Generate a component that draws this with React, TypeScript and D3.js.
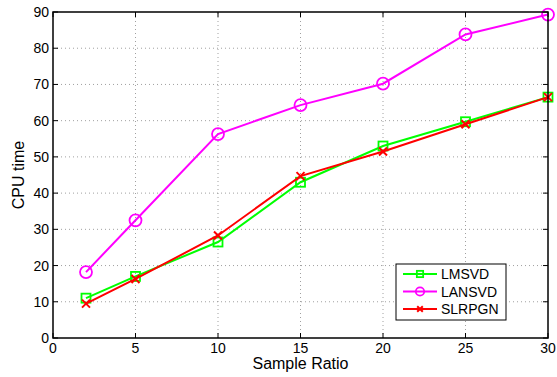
import React, { useRef, useEffect } from "react";
import * as d3 from "d3";

const sampleRatio = [2, 5, 10, 15, 20, 25, 30];
const lmsvd = [11, 17, 26.5, 43, 53, 59.7, 66.5];
const lansvd = [18.2, 32.5, 56.3, 64.3, 70.2, 83.8, 89.3];
const slrpgn = [9.5, 16.3, 28.3, 44.7, 51.5, 59, 66.5];
const xTicks = [0, 5, 10, 15, 20, 25, 30];
const yTicks = [0, 10, 20, 30, 40, 50, 60, 70, 80, 90];

const series = [
  { name: "LMSVD", values: lmsvd, color: "#00ff00", marker: "square" },
  { name: "LANSVD", values: lansvd, color: "#ff00ff", marker: "circle" },
  { name: "SLRPGN", values: slrpgn, color: "#ff0000", marker: "cross" },
];

const W = 557, H = 377;
const margin = { left: 53, right: 9, top: 12, bottom: 39 };

function drawMarker(g, type, x, y, color, s = 1) {
  if (type === "square") {
    g.append("rect").attr("x", x - 4.5 * s).attr("y", y - 4.5 * s)
      .attr("width", 9 * s).attr("height", 9 * s)
      .attr("fill", "none").attr("stroke", color).attr("stroke-width", 1.8);
  } else if (type === "circle") {
    g.append("circle").attr("cx", x).attr("cy", y).attr("r", 6 * s)
      .attr("fill", "none").attr("stroke", color).attr("stroke-width", 1.8);
  } else {
    const r = 4 * s;
    g.append("path")
      .attr("d", `M${x - r},${y - r}L${x + r},${y + r}M${x - r},${y + r}L${x + r},${y - r}`)
      .attr("stroke", color).attr("stroke-width", 2);
  }
}

export default function App() {
  const svgRef = useRef(null);

  useEffect(() => {
    const svg = d3.select(svgRef.current);
    svg.selectAll("*").remove();
    const iw = W - margin.left - margin.right;
    const ih = H - margin.top - margin.bottom;

    const x = d3.scaleLinear().domain([0, 30]).range([margin.left, margin.left + iw]);
    const y = d3.scaleLinear().domain([0, 90]).range([margin.top + ih, margin.top]);

    svg.append("rect").attr("width", W).attr("height", H).attr("fill", "white");

    // grid
    const grid = svg.append("g");
    xTicks.slice(1, -1).forEach((t) => {
      grid.append("line").attr("x1", x(t)).attr("x2", x(t))
        .attr("y1", y(0)).attr("y2", y(90))
        .attr("stroke", "#888").attr("stroke-width", 0.8).attr("stroke-dasharray", "1,3");
    });
    yTicks.slice(1, -1).forEach((t) => {
      grid.append("line").attr("x1", x(0)).attr("x2", x(30))
        .attr("y1", y(t)).attr("y2", y(t))
        .attr("stroke", "#888").attr("stroke-width", 0.8).attr("stroke-dasharray", "1,3");
    });

    // ticks inward on all sides
    const tk = svg.append("g").attr("stroke", "black").attr("stroke-width", 1);
    xTicks.forEach((t) => {
      tk.append("line").attr("x1", x(t)).attr("x2", x(t)).attr("y1", y(0)).attr("y2", y(0) - 5);
      tk.append("line").attr("x1", x(t)).attr("x2", x(t)).attr("y1", y(90)).attr("y2", y(90) + 5);
    });
    yTicks.forEach((t) => {
      tk.append("line").attr("x1", x(0)).attr("x2", x(0) + 5).attr("y1", y(t)).attr("y2", y(t));
      tk.append("line").attr("x1", x(30)).attr("x2", x(30) - 5).attr("y1", y(t)).attr("y2", y(t));
    });

    // tick labels
    const font = "Liberation Sans, Arial, sans-serif";
    xTicks.forEach((t) => {
      svg.append("text").attr("x", x(t)).attr("y", y(0) + 15)
        .attr("text-anchor", "middle").attr("font-family", font).attr("font-size", 14)
        .text(t);
    });
    yTicks.forEach((t) => {
      svg.append("text").attr("x", x(0) - 4).attr("y", y(t) + 5)
        .attr("text-anchor", "end").attr("font-family", font).attr("font-size", 14)
        .text(t);
    });

    // lines
    const line = d3.line().x((d, i) => x(sampleRatio[i])).y((d) => y(d));
    series.forEach((s) => {
      svg.append("path").datum(s.values).attr("d", line)
        .attr("fill", "none").attr("stroke", s.color).attr("stroke-width", 2);
      const mg = svg.append("g");
      s.values.forEach((v, i) => drawMarker(mg, s.marker, x(sampleRatio[i]), y(v), s.color));
    });

    // frame
    svg.append("rect").attr("x", x(0)).attr("y", y(90))
      .attr("width", iw).attr("height", ih)
      .attr("fill", "none").attr("stroke", "black").attr("stroke-width", 1.5);

    // axis labels
    svg.append("text").attr("x", x(15)).attr("y", 369)
      .attr("text-anchor", "middle").attr("font-family", font).attr("font-size", 16)
      .text("Sample Ratio");
    svg.append("text").attr("transform", `translate(24,${y(45)}) rotate(-90)`)
      .attr("text-anchor", "middle").attr("font-family", font).attr("font-size", 16)
      .text("CPU time");

    // legend
    const lg = svg.append("g");
    lg.append("rect").attr("x", 396).attr("y", 264).attr("width", 110).attr("height", 56)
      .attr("fill", "white").attr("stroke", "black").attr("stroke-width", 1);
    series.forEach((s, i) => {
      const ly = 274 + i * 17.5;
      lg.append("line").attr("x1", 403).attr("x2", 437).attr("y1", ly).attr("y2", ly)
        .attr("stroke", s.color).attr("stroke-width", 2);
      drawMarker(lg, s.marker, 420, ly, s.color, 0.7);
      lg.append("text").attr("x", 441).attr("y", ly + 5)
        .attr("font-family", font).attr("font-size", 14).text(s.name);
    });
  }, []);

  return (
    <svg ref={svgRef} width={W} height={H}
      style={{ position: "absolute", left: 0, top: 0, display: "block" }} />
  );
}
